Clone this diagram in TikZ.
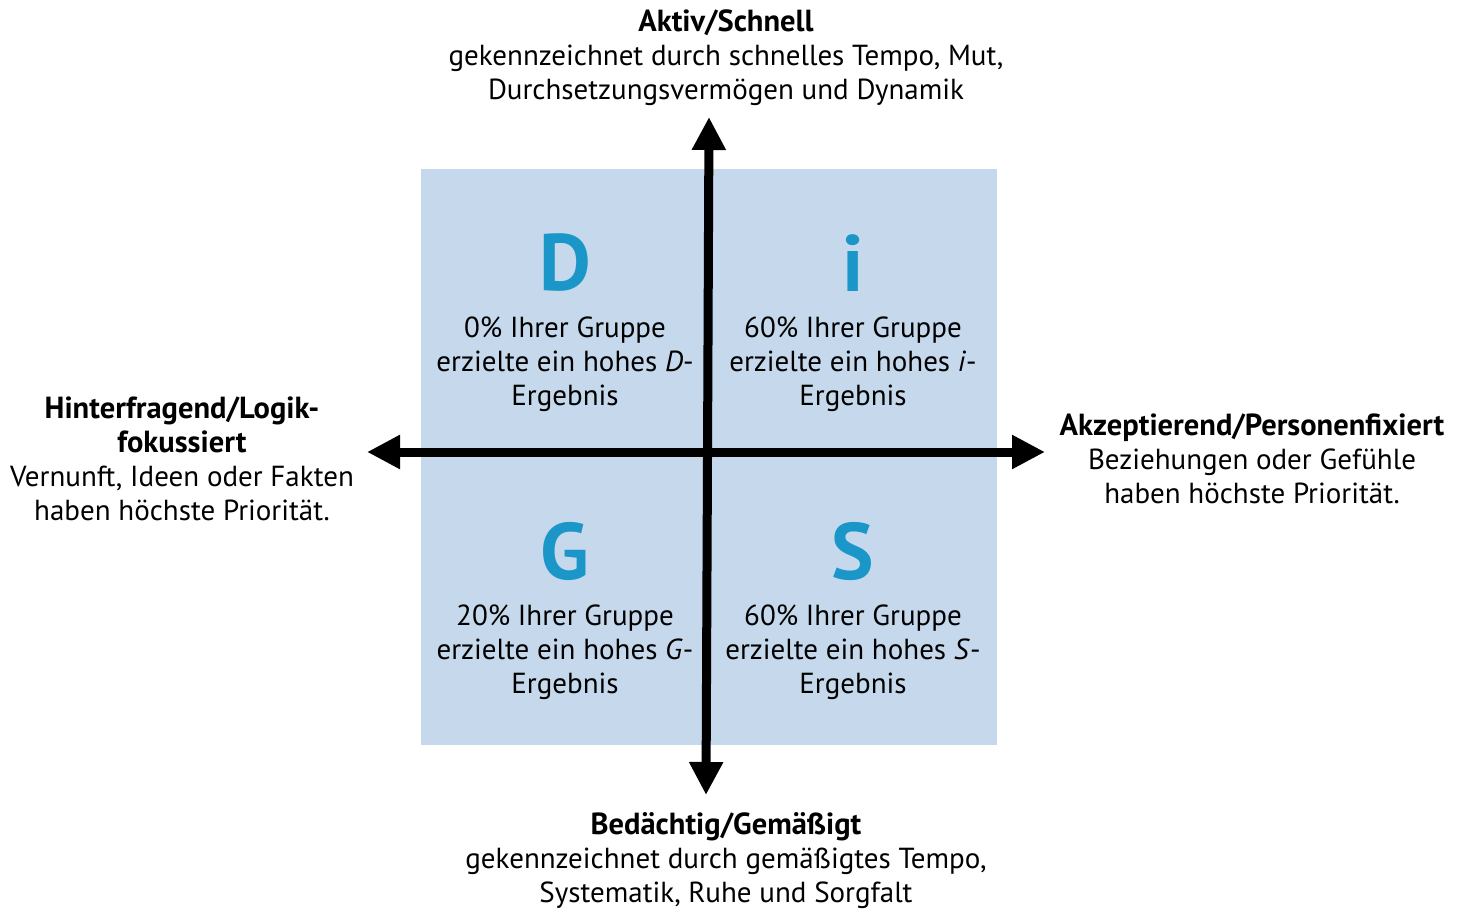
\documentclass[tikz,border=0pt]{standalone}
\usepackage{fontspec}
\setmainfont{PT Sans}
\usetikzlibrary{arrows.meta}
\definecolor{quadbg}{RGB}{197,216,236}
\definecolor{lettercol}{RGB}{26,150,200}
\newcommand{\hd}[1]{{\fontsize{30.5}{34}\selectfont\bfseries #1}}
\begin{document}
\begin{tikzpicture}[x=1pt,y=-1pt,
  txt/.style={align=center,inner sep=0pt,font=\fontsize{29}{34}\selectfont},
  big/.style={inner sep=0pt,text=lettercol,font=\fontsize{80}{90}\selectfont\bfseries},
  axis/.style={line width=9pt,{Triangle[width=32pt,length=33pt]}-{Triangle[width=32pt,length=33pt]}}]
\useasboundingbox (0,0) rectangle (1464,909);
\fill[quadbg] (421,169) rectangle (997,745);
% letters
\node[big] (D) at (565,263) {D};
\node[big] (I) at (853,263) {i};
\node[big] (G) at (565,551) {G};
\node[big] (S) at (853,551) {S};
% quadrant texts
\node[txt] (tD) at (565,364) {0\% Ihrer Gruppe\\erzielte ein hohes \textit{D}-\\Ergebnis};
\node[txt] (tI) at (853,364) {60\% Ihrer Gruppe\\erzielte ein hohes \textit{i}-\\Ergebnis};
\node[txt] (tG) at (565,652) {20\% Ihrer Gruppe\\erzielte ein hohes \textit{G}-\\Ergebnis};
\node[txt] (tS) at (853,652) {60\% Ihrer Gruppe\\erzielte ein hohes \textit{S}-\\Ergebnis};
% axes
\coordinate (top) at (709,117);
\coordinate (bot) at (706,795);
\coordinate (lft) at (367,452);
\coordinate (rgt) at (1045,452);
\draw[axis] (bot) -- (top);
\draw[axis] (lft) -- (rgt);
% axis labels
\node[txt] (ltop) at (726,58) {\hd{Aktiv/Schnell}\\gekennzeichnet durch schnelles Tempo, Mut,\\Durchsetzungsvermögen und Dynamik};
\node[txt] (lbot) at (726,861) {\hd{Bedächtig/Gemäßigt}\\gekennzeichnet durch gemäßigtes Tempo,\\Systematik, Ruhe und Sorgfalt};
\node[txt] (llft) at (182,459) {\hd{Hinterfragend/Logik-}\\\hd{fokussiert}\\Vernunft, Ideen oder Fakten\\haben höchste Priorität.};
\node[txt] (lrgt) at (1252,459) {\hd{Akzeptierend/Personenfixiert}\\Beziehungen oder Gefühle\\haben höchste Priorität.};
\end{tikzpicture}
\end{document}
